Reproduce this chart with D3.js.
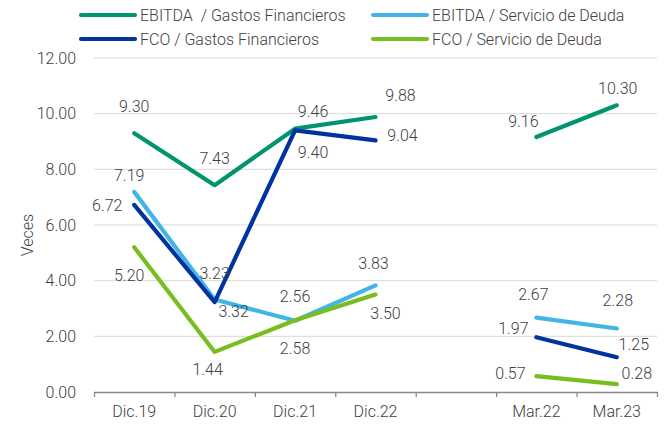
<!DOCTYPE html>
<html>
<head>
<meta charset="utf-8">
<script src="https://cdn.jsdelivr.net/npm/d3@7"></script>
<style>
  body { margin: 0; background: #fff; }
  svg text { font-family: Roboto, "Open Sans", sans-serif; font-weight: 300; fill: #404040; }
</style>
</head>
<body>
<div class="chart"></div>
<script>
// categories (the empty slot is the gap between the yearly and quarterly figures)
let categories = ['Dic.19', 'Dic.20', 'Dic.21', 'Dic.22', '', 'Mar.22', 'Mar.23'];
let yTicks = [0, 2, 4, 6, 8, 10, 12];

let ebitdaGastos = [9.30, 7.43, 9.46, 9.88, null, 9.16, 10.30];
let ebitdaServicio = [7.19, 3.32, 2.56, 3.83, null, 2.67, 2.28];
let fcoGastos = [6.72, 3.23, 9.40, 9.04, null, 1.97, 1.25];
let fcoServicio = [5.20, 1.44, 2.58, 3.50, null, 0.57, 0.28];

let series = [
    { name: 'EBITDA  / Gastos Financieros', values: ebitdaGastos, color: '#00946f' },
    { name: 'EBITDA / Servicio de Deuda', values: ebitdaServicio, color: '#41b6e6' },
    { name: 'FCO / Gastos Financieros', values: fcoGastos, color: '#0032a0' },
    { name: 'FCO / Servicio de Deuda', values: fcoServicio, color: '#78be20' }
];

// where each data label sits relative to its point (dx, dy)
let labelOffsets = [
    [[0, -27], [0, -27], [18, -17], [25, -22], null, [-13, -16], [1, -17]],
    [[-5, -16], [19, 12], [0, -24], [-2, -22], null, [-3, -23], [1, -28]],
    [[-27, 1], [0, -29], [18, 22], [27, -5], null, [-23, -9], [17, -13]],
    [[-5, 28], [-7, 18], [0, 28], [10, 19], null, [-26, -3], [20, -11]]
];

let width = 667, height = 428;
let margin = { top: 58, right: 10, bottom: 36, left: 94 };
let plotRight = 657, plotBottom = 392;

let svg = d3.select('.chart').append('svg')
    .attr('width', width)
    .attr('height', height);

let x = d3.scaleBand().domain(d3.range(categories.length)).range([margin.left, plotRight]).padding(0);
let xEdge = d3.scaleLinear().domain([0, categories.length]).range([margin.left, plotRight]);
let y = d3.scaleLinear().domain([0, 12]).range([plotBottom, margin.top]);

// gridlines
svg.append('g')
    .selectAll('line')
    .data(yTicks.slice(1))
    .enter().append('line')
    .attr('x1', margin.left).attr('x2', plotRight)
    .attr('y1', d => y(d)).attr('y2', d => y(d))
    .attr('stroke', '#d9d9d9')
    .attr('stroke-width', 1);

// y axis labels
let yAxis = d3.axisLeft(y).tickValues(yTicks).tickFormat(d3.format('.2f')).tickSize(0).tickPadding(18);
let yg = svg.append('g').attr('transform', 'translate(' + margin.left + ',0)').call(yAxis);
yg.select('.domain').remove();
yg.selectAll('text').style('font-size', '16px').attr('fill', '#404040');

svg.append('text')
    .attr('transform', 'translate(27,' + 235 + ') rotate(-90)')
    .attr('text-anchor', 'middle')
    .attr('dominant-baseline', 'central')
    .style('font-size', '16px')
    .text('Veces');

// x axis: line + ticks at band edges
let edgeAxis = d3.axisBottom(xEdge).tickValues(d3.range(categories.length + 1)).tickFormat('').tickSizeInner(5).tickSizeOuter(0);
let xg = svg.append('g').attr('transform', 'translate(0,' + plotBottom + ')').call(edgeAxis);
xg.selectAll('line, path').attr('stroke', '#898989').attr('stroke-width', 1.3);

let labelAxis = d3.axisBottom(x).tickSize(0).tickPadding(14).tickFormat(i => categories[i]);
let lg = svg.append('g').attr('transform', 'translate(0,' + plotBottom + ')').call(labelAxis);
lg.select('.domain').remove();
lg.selectAll('text').style('font-size', '16px').attr('fill', '#404040');

// lines
let line = d3.line()
    .defined(d => d != null)
    .x((d, i) => x(i) + x.bandwidth() / 2)
    .y(d => y(d));

svg.append('g')
    .selectAll('path')
    .data(series)
    .enter().append('path')
    .attr('d', d => line(d.values))
    .attr('fill', 'none')
    .attr('stroke', d => d.color)
    .attr('stroke-width', 4.2)
    .attr('stroke-linecap', 'round')
    .attr('stroke-linejoin', 'round');

// data labels
series.forEach((s, si) => {
    svg.append('g')
        .selectAll('text')
        .data(s.values.map((v, i) => ({ v: v, i: i })).filter(d => d.v != null))
        .enter().append('text')
        .attr('x', d => x(d.i) + x.bandwidth() / 2 + labelOffsets[si][d.i][0])
        .attr('y', d => y(d.v) + labelOffsets[si][d.i][1])
        .attr('text-anchor', 'middle')
        .attr('dominant-baseline', 'central')
        .style('font-size', '16px')
        .text(d => d3.format('.2f')(d.v));
});

// legend
let legendPos = [[81, 15], [373, 15], [81, 39], [373, 39]];
let legend = svg.append('g')
    .selectAll('g')
    .data(series)
    .enter().append('g')
    .attr('transform', (d, i) => 'translate(' + legendPos[i][0] + ',' + legendPos[i][1] + ')');

legend.append('line')
    .attr('x1', 0).attr('x2', 54)
    .attr('stroke', d => d.color)
    .attr('stroke-width', 4.2)
    .attr('stroke-linecap', 'round');

legend.append('text')
    .attr('x', 59)
    .attr('dominant-baseline', 'central')
    .style('font-size', '16px')
    .style('white-space', 'pre')
    .text(d => d.name);
</script>
</body>
</html>
